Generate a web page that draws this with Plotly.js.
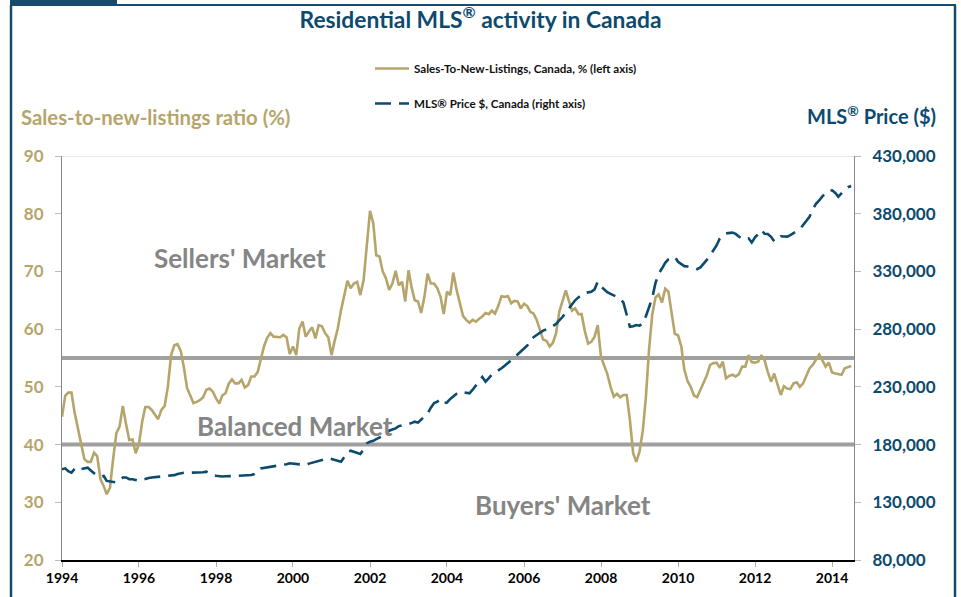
<!DOCTYPE html>
<html><head><meta charset="utf-8">
<script src="https://cdn.plot.ly/plotly-3.0.1.min.js"></script>
<style>html,body{margin:0;padding:0;background:#fff}#chart{width:961px;height:597px}</style>
</head><body><div id="chart"></div>
<script>
// Monthly data, January 1994 to July 2014
const startYear = 1994;

// Sales-to-new-listings ratio, Canada (%)
const snlr = [
  44.8, 48.5, 49.0, 49.0, 45.5, 43.0, 40.0, 37.5, 37.0, 37.0, 38.6, 38.0,   // 1994
  34.0, 32.8, 31.4, 32.5, 37.5, 42.0, 43.1, 46.7, 43.5, 40.8, 40.9, 38.5,   // 1995
  40.1, 44.0, 46.5, 46.5, 46.0, 45.2, 44.4, 46.0, 46.7, 50.0, 55.5, 57.2,   // 1996
  57.4, 56.2, 53.5, 49.8, 48.6, 47.2, 47.4, 47.7, 48.2, 49.5, 49.7, 49.2,   // 1997
  48.0, 47.1, 48.5, 48.9, 50.5, 51.3, 50.6, 50.6, 51.2, 49.9, 50.3, 51.8,   // 1998
  51.8, 52.6, 54.7, 57.0, 58.5, 59.3, 58.7, 58.6, 58.6, 59.0, 58.6, 55.7,   // 1999
  57.0, 55.5, 60.1, 61.3, 58.7, 59.6, 60.3, 58.4, 60.7, 60.5, 59.3, 58.6,   // 2000
  55.5, 58.1, 60.1, 63.3, 65.9, 68.4, 67.1, 67.9, 68.2, 65.9, 68.5, 74.9,   // 2001
  80.5, 78.3, 72.8, 72.6, 70.0, 68.8, 66.8, 67.9, 70.1, 67.6, 68.2, 64.8,   // 2002
  70.2, 67.1, 65.0, 64.8, 62.8, 65.6, 69.6, 67.9, 67.9, 67.1, 65.6, 62.6,   // 2003
  66.5, 65.9, 69.8, 66.8, 64.5, 62.3, 61.6, 61.1, 61.6, 61.3, 61.8, 62.2,   // 2004
  62.8, 62.6, 63.2, 62.7, 64.0, 65.7, 65.6, 65.7, 64.5, 64.9, 64.8, 63.6,   // 2005
  64.4, 64.0, 63.0, 62.7, 61.6, 59.8, 58.2, 58.0, 57.0, 57.6, 59.3, 63.0,   // 2006
  65.0, 66.7, 65.0, 63.2, 63.6, 62.6, 62.6, 59.6, 57.5, 57.8, 58.7, 60.7,   // 2007
  55.2, 53.8, 52.2, 50.0, 48.3, 48.8, 48.2, 48.6, 48.6, 44.3, 38.5, 37.0,   // 2008
  38.8, 42.5, 48.0, 56.5, 62.5, 65.5, 66.0, 64.6, 67.0, 66.5, 63.0, 59.2,   // 2009
  58.9, 57.0, 53.0, 51.0, 50.0, 48.5, 48.2, 49.5, 50.8, 52.0, 53.8, 54.1,   // 2010
  54.2, 53.3, 54.4, 51.5, 51.9, 52.1, 51.8, 52.2, 53.5, 53.5, 55.5, 54.3,   // 2011
  54.2, 54.4, 55.5, 54.6, 52.6, 50.9, 52.3, 50.3, 48.6, 50.1, 49.7, 49.6,   // 2012
  50.6, 50.8, 50.0, 50.6, 51.8, 53.2, 53.8, 54.6, 55.6, 54.6, 53.5, 54.2,   // 2013
  52.5, 52.3, 52.2, 52.1, 53.2, 53.4, 53.6                                  // 2014
];

// MLS price, Canada ($)
const price = [
  158600, 159400, 157000, 155600, 159000, 160500, 158800, 159500, 160000, 157500, 155000, 152800, // 1994
  152300, 152800, 148500, 147900, 147900, 147200, 148500, 151500, 151500, 150000, 150000, 149500, // 1995
  148500, 149500, 150500, 151000, 151500, 151700, 152000, 152300, 152500, 152600, 152800, 153500, // 1996
  154500, 155300, 155600, 155600, 155600, 155600, 155600, 155600, 156000, 156500, 155000, 153600, // 1997
  153000, 152500, 152300, 152500, 152800, 152800, 152800, 153000, 153200, 153400, 153500, 153600, // 1998
  154500, 156500, 159400, 159800, 160200, 160500, 160800, 161200, 161800, 162300, 163000, 163800, // 1999
  163500, 163000, 162700, 162500, 162300, 163500, 164200, 165200, 166000, 166800, 167300, 168100, // 2000
  167500, 166700, 165800, 165200, 169000, 173500, 174700, 173800, 172800, 171800, 176000, 181000, // 2001
  182500, 183300, 184800, 186000, 187400, 189500, 192000, 193000, 194000, 196000, 196500, 197000, // 2002
  197800, 198800, 199800, 199000, 201500, 204000, 207000, 212000, 216000, 217200, 219200, 216000, // 2003
  216500, 219500, 222000, 224000, 225800, 225300, 224800, 224400, 227500, 231600, 235000, 238500, // 2004
  234500, 237500, 240500, 242300, 244000, 246100, 248300, 250400, 253000, 255500, 258000, 261000, // 2005
  263000, 265800, 270000, 273000, 274900, 277000, 278700, 279700, 280700, 282600, 284500, 287500, // 2006
  290500, 294500, 298000, 301500, 305000, 307500, 309800, 311300, 312000, 312400, 314500, 321000, // 2007
  317000, 314000, 312000, 310500, 309300, 307500, 306500, 303000, 292000, 282000, 282500, 283600, // 2008
  283000, 285000, 291000, 298500, 307000, 320000, 328000, 332500, 337500, 340500, 341700, 342600, // 2009
  338400, 336000, 334600, 334300, 334000, 333000, 332000, 333500, 336500, 340000, 344000, 348000, // 2010
  352500, 358500, 361500, 363000, 363300, 363600, 362500, 360500, 358000, 358400, 358700, 355000, // 2011
  359500, 362500, 366000, 362600, 362400, 360000, 356000, 358500, 360500, 360300, 360200, 361500, // 2012
  363500, 365000, 366500, 370000, 373500, 377400, 383500, 388500, 391500, 395000, 397500, 400000, // 2013
  400300, 398000, 394700, 398000, 400800, 403000, 404000                                          // 2014
];

const leftTicks = [20, 30, 40, 50, 60, 70, 80, 90];
const rightTicks = [80000, 130000, 180000, 230000, 280000, 330000, 380000, 430000];
const xTickYears = [1994, 1996, 1998, 2000, 2002, 2004, 2006, 2008, 2010, 2012, 2014];
const marketBands = [55, 40];
const seriesNames = ['Sales-To-New-Listings, Canada, % (left axis)', 'MLS® Price $, Canada (right axis)'];

const dates = snlr.map((_, i) => {
  const y = startYear + Math.floor(i / 12);
  const m = (i % 12) + 1;
  return y + '-' + String(m).padStart(2, '0') + '-01';
});

const GOLD = '#b5a56b';
const BLUE = '#0c4a6e';
const GREY = '#858585';
const FONT = 'Lato, "Open Sans", sans-serif';

// pixel helpers for paper coords (plot area 62..854 x, 156..560 y)
const PL = 62, PR = 854, PT = 156, PB = 560;
const px = v => (v - PL) / (PR - PL);
const py = v => (PB - v) / (PB - PT);

const traces = [
  {
    x: dates, y: snlr, type: 'scatter', mode: 'lines', name: '<b>' + seriesNames[0] + '</b>',
    legendgroup: 'a', line: {color: GOLD, width: 2.6}, yaxis: 'y', hoverinfo: 'skip'
  },
  {
    x: dates, y: price, type: 'scatter', mode: 'lines', name: '<b>' + seriesNames[1] + '</b>',
    legendgroup: 'b', line: {color: BLUE, width: 2.6, dash: '16px,8px'}, yaxis: 'y2', hoverinfo: 'skip'
  }
];

const shapes = [];
marketBands.forEach(v => shapes.push({
  type: 'line', xref: 'paper', yref: 'y', x0: 0, x1: 1, y0: v, y1: v,
  line: {color: '#a0a0a0', width: 4}, layer: 'below'
}));
shapes.push({type: 'line', xref: 'paper', yref: 'y', x0: 0, x1: 1, y0: 90, y1: 90,
  line: {color: '#d4d4d4', width: 1}, layer: 'below'});
// frame
const FRAME = '#174a6b';
shapes.push({type: 'line', xref: 'paper', yref: 'paper', x0: px(11), x1: px(11), y0: py(5), y1: py(600), line: {color: FRAME, width: 2.5}});
shapes.push({type: 'line', xref: 'paper', yref: 'paper', x0: px(955), x1: px(955), y0: py(5), y1: py(600), line: {color: FRAME, width: 2.5}});
shapes.push({type: 'line', xref: 'paper', yref: 'paper', x0: px(10), x1: px(956), y0: py(5), y1: py(5), line: {color: FRAME, width: 2}});
shapes.push({type: 'rect', xref: 'paper', yref: 'paper', x0: px(10), x1: px(117), y0: py(0), y1: py(5), fillcolor: FRAME, line: {width: 0}});

const mkt = (t, x, y) => ({text: '<b>' + t + '</b>', x: px(x), y: py(y), xref: 'paper', yref: 'paper',
  xanchor: 'center', yanchor: 'middle', showarrow: false,
  font: {family: FONT, size: 26, color: GREY}});

const annotations = [
  mkt("Sellers' Market", 240, 258),
  mkt('Balanced Market', 295, 426),
  mkt("Buyers' Market", 563, 505),
  {text: '<b>Sales-to-new-listings ratio (%)</b>', x: px(19), y: py(117), xref: 'paper', yref: 'paper',
   xanchor: 'left', yanchor: 'middle', showarrow: false,
   font: {family: FONT, size: 20.3, color: GOLD}},
  {text: '<b>MLS<sup>®</sup> Price ($)</b>', x: px(938), y: py(115), xref: 'paper', yref: 'paper',
   xanchor: 'right', yanchor: 'middle', showarrow: false,
   font: {family: FONT, size: 20, color: BLUE}}
];

const layout = {
  width: 961, height: 597,
  margin: {l: PL, r: 961 - PR, t: PT, b: 597 - PB, pad: 0},
  paper_bgcolor: '#fff', plot_bgcolor: '#fff',
  font: {family: FONT},
  title: {text: '<b>Residential MLS<sup>®</sup> activity in Canada</b>', x: 0.5, xref: 'container',
    y: 1 - 20 / 597, yref: 'container', yanchor: 'middle', xanchor: 'center',
    font: {family: FONT, size: 22.8, color: BLUE}},
  showlegend: true,
  legend: {x: px(370), y: py(54), xanchor: 'left', yanchor: 'top', orientation: 'v',
    traceorder: 'grouped', tracegroupgap: 16, itemwidth: 34, bgcolor: 'rgba(0,0,0,0)',
    font: {family: FONT, size: 11.6, color: '#111'}},
  xaxis: {
    type: 'date', range: ['1994-01-01', '2014-07-28'],
    tickvals: xTickYears.map(y => y + '-01-01'), ticktext: xTickYears.map(String),
    ticks: 'outside', ticklen: 5, tickcolor: '#aaa', tickwidth: 1,
    showline: true, linecolor: '#000', linewidth: 1.5, showgrid: false, zeroline: false,
    tickfont: {family: FONT, size: 14, color: '#000', weight: 'bold'}
  },
  yaxis: {
    range: [20, 90], tickvals: leftTicks, ticks: 'outside', ticklen: 6, tickcolor: '#bbb',
    showline: true, linecolor: '#888', linewidth: 1, showgrid: false, zeroline: false,
    tickfont: {family: FONT, size: 17, color: GOLD, weight: 'bold'}, ticklabelstandoff: 8
  },
  yaxis2: {
    overlaying: 'y', side: 'right', range: [80000, 430000], tickvals: rightTicks, tickformat: ',',
    ticks: 'outside', ticklen: 6, tickcolor: '#bbb',
    showline: true, linecolor: '#888', linewidth: 1, showgrid: false, zeroline: false,
    tickfont: {family: FONT, size: 17, color: BLUE, weight: 'bold'}, ticklabelstandoff: 8
  },
  shapes: shapes,
  annotations: annotations
};

Plotly.newPlot('chart', traces, layout, {staticPlot: true, displayModeBar: false});
</script>
</body></html>
